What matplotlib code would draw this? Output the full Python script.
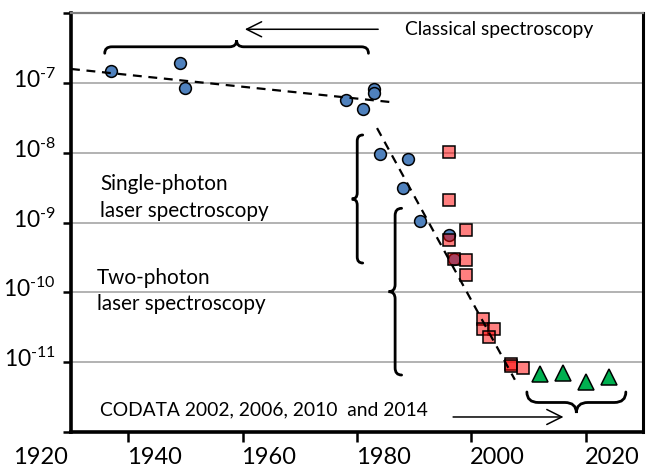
import numpy as np
import matplotlib.pyplot as plt
from matplotlib.path import Path
from matplotlib.patches import PathPatch
from matplotlib.transforms import ScaledTranslation, IdentityTransform
from matplotlib.ticker import FixedLocator, NullLocator

plt.rcParams['font.family'] = ['Lato', 'DejaVu Sans']
plt.rcParams['mathtext.fontset'] = 'custom'
plt.rcParams['mathtext.rm'] = 'Lato'
plt.rcParams['mathtext.it'] = 'Lato:italic'
plt.rcParams['mathtext.bf'] = 'Lato:bold'

# blue circles: classical and single-photon measurements
circle_year = [1927, 1939, 1940, 1968, 1971, 1973, 1973, 1974, 1979, 1978, 1981, 1986, 1987]
circle_val = [1.5e-7, 1.9e-7, 8.4e-8, 5.7e-8, 4.2e-8, 8.1e-8, 7.1e-8,
              9.7e-9, 8.0e-9, 3.1e-9, 1.05e-9, 6.7e-10, 3.0e-10]

# red squares: two-photon measurements
square_year = [1986, 1986, 1989, 1986, 1987, 1989, 1989, 1992, 1992, 1994, 1993, 1997, 1997, 1999]
square_val = [1.03e-8, 2.1e-9, 7.7e-10, 5.7e-10, 3.0e-10, 2.9e-10, 1.75e-10,
              4.1e-11, 3.0e-11, 3.0e-11, 2.3e-11, 9.3e-12, 8.8e-12, 8.2e-12]

# green triangles: CODATA
codata_year = [2002, 2006, 2010, 2014]
codata_val = [6.7e-12, 6.9e-12, 5.2e-12, 6.2e-12]

# dashed trend lines
trend1_year = [1920, 1976.3]
trend1_val = [1.58e-7, 5.26e-8]
trend2_year = [1973.5, 1997.6]
trend2_val = [2.25e-8, 5.6e-12]

decades = [1e-12, 1e-11, 1e-10, 1e-9, 1e-8, 1e-7, 1e-6]
decade_labels = ['', r'10$^{\text{-11}}$', r'10$^{\text{-10}}$', r'10$^{\text{-9}}$',
                 r'10$^{\text{-8}}$', r'10$^{\text{-7}}$', '']
year_labels = [1920, 1940, 1960, 1980, 2000, 2020]
year_minor = [1930, 1940, 1950, 1960, 1970, 1980, 1990, 2000, 2010]


def brace(ax, p0, p1, depth, side=1, lw=2.0):
    """curly brace between two data points, tip pointing to one side"""
    a = ax.transData.transform(p0)
    b = ax.transData.transform(p1)
    t = b - a
    L = np.hypot(*t)
    t = t / L
    n = side * np.array([-t[1], t[0]])
    h = depth
    q = h * 0.55
    local = [(0, 0), (0, h / 2), (q, h / 2), (L / 2 - q, h / 2),
             (L / 2, h / 2), (L / 2, h), (L / 2, h / 2), (L / 2 + q, h / 2),
             (L - q, h / 2), (L, h / 2), (L, 0)]
    codes = [Path.MOVETO, Path.CURVE3, Path.CURVE3, Path.LINETO,
             Path.CURVE3, Path.CURVE3, Path.CURVE3, Path.CURVE3,
             Path.LINETO, Path.CURVE3, Path.CURVE3]
    verts = [a + u * t + v * n for u, v in local]
    patch = PathPatch(Path(verts, codes), fill=False, lw=lw, color='black',
                      transform=IdentityTransform(), zorder=5, capstyle='round')
    ax.add_artist(patch)


fig = plt.figure(figsize=(6.71, 4.72), dpi=100)
fig.patch.set_facecolor('white')
ax = fig.add_axes([71 / 671, 40 / 472, 572 / 671, 419 / 472])

ax.set_yscale('log')
ax.set_xlim(1920, 2020)
ax.set_ylim(1e-12, 1e-6)

ax.yaxis.set_major_locator(FixedLocator(decades))
ax.yaxis.set_minor_locator(NullLocator())
ax.set_yticklabels(decade_labels)
ax.set_xticks(year_labels)
ax.set_xticklabels([str(y) for y in year_labels])
ax.xaxis.set_minor_locator(FixedLocator(year_minor))

ax.tick_params(axis='y', which='major', direction='out', length=5.8, width=1.8,
               labelsize=16.5, pad=5)
ax.tick_params(axis='x', which='major', length=0, labelsize=17, pad=11)
ax.tick_params(axis='x', which='minor', direction='out', length=7, width=1.8)
for lab in ax.get_xticklabels():
    lab.set_transform(lab.get_transform() + ScaledTranslation(-0.31, 0, fig.dpi_scale_trans))
for lab in ax.get_yticklabels():
    lab.set_transform(lab.get_transform() + ScaledTranslation(0, 0.05, fig.dpi_scale_trans))

ax.grid(axis='y', which='major', color='#a6a6a6', lw=1.2)
ax.set_axisbelow(True)
for s in ['left', 'bottom']:
    ax.spines[s].set_linewidth(2.6)
ax.spines['right'].set_linewidth(2.2)
ax.spines['top'].set_linewidth(1.6)
ax.spines['top'].set_color('#808080')

ax.plot(circle_year, circle_val, 'o', ms=8.5, mfc='#4f81bd', mec='black', mew=1.1, zorder=3)
ax.plot(square_year, square_val, 's', ms=8.2, mfc=(1, 0, 0, 0.5), mec='black', mew=1.1, zorder=3)
ax.plot(codata_year, codata_val, '^', ms=12, mfc='#00b050', mec='black', mew=1.1, zorder=3)

ax.plot(trend1_year, trend1_val, '--', color='black', lw=1.6, dashes=(4, 3), zorder=4)
ax.plot(trend2_year, trend2_val, '--', color='black', lw=1.6, dashes=(4, 3), zorder=4)

# braces
brace(ax, (1925.9, 10**-6.577), (1972.0, 10**-6.577), 13, side=1)
brace(ax, (1971.0, 10**-7.747), (1971.0, 10**-9.58), 11, side=-1)
brace(ax, (1977.8, 10**-8.797), (1977.8, 10**-11.184), 13, side=-1)
brace(ax, (1999.7, 10**-11.427), (2017.0, 10**-11.427), 21, side=-1)

# arrows
arrow = dict(arrowstyle='->,head_length=0.72,head_width=0.36', lw=1.1, color='black',
             mutation_scale=15, shrinkA=0, shrinkB=0)
ax.annotate('', xy=(1950.4, 10**-6.233), xytext=(1973.7, 10**-6.233), arrowprops=arrow)
ax.annotate('', xy=(2006.1, 10**-11.785), xytext=(1986.8, 10**-11.785), arrowprops=arrow)

# labels
txt = dict(fontsize=13.9, va='center', ha='left')
ax.text(1978.4, 10**-6.243, 'Classical spectroscopy', **txt)
ax.text(1925.1, 10**-11.685, 'CODATA 2002, 2006, 2010  and 2014', **txt)
big = dict(fontsize=14.9, va='center', ha='left', linespacing=1.42)
ax.text(1925.1, 10**-8.64, 'Single-photon\nlaser spectroscopy', **big)
ax.text(1924.5, 10**-9.98, 'Two-photon\nlaser spectroscopy', **big)

fig.savefig('out.png', dpi=100, facecolor='white')
